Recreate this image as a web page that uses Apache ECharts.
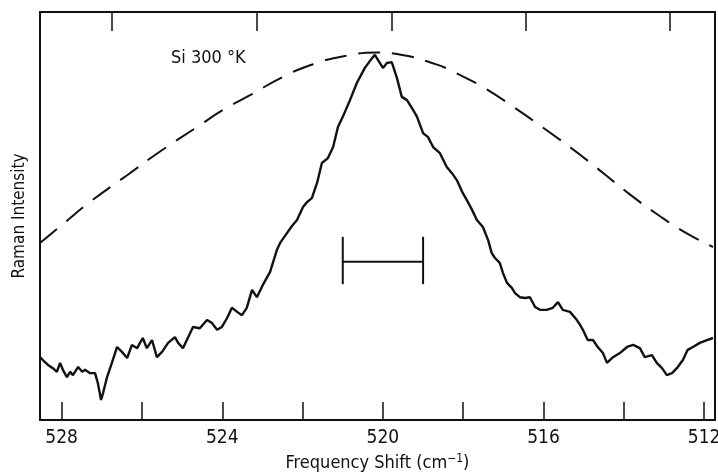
<!DOCTYPE html>
<html>
<head>
<meta charset="utf-8">
<script src="https://cdn.jsdelivr.net/npm/echarts@6/dist/echarts.min.js"></script>
<style>
html,body{margin:0;padding:0;background:#fff;}
#chart{width:718px;height:474px;}
</style>
</head>
<body>
<div id="chart"></div>
<script>
// Measured Raman spectrum (frequency shift cm^-1, intensity arb. units)
const spectrumX = [528.54,528.47,528.34,528.22,528.12,528.04,527.97,527.87,527.79,527.72,527.59,527.49,527.42,527.30,527.17,527.10,527.02,526.97,526.87,526.75,526.62,526.50,526.37,526.25,526.12,526.05,525.98,525.88,525.75,525.63,525.50,525.35,525.18,525.10,524.98,524.85,524.73,524.56,524.38,524.26,524.13,524.01,523.88,523.76,523.63,523.51,523.39,523.26,523.14,522.99,522.81,522.64,522.56,522.39,522.27,522.14,521.99,521.89,521.77,521.64,521.52,521.37,521.24,521.12,521.00,520.82,520.65,520.45,520.27,520.20,520.12,520.00,519.90,519.78,519.65,519.53,519.40,519.25,519.15,519.00,518.88,518.75,518.58,518.41,518.28,518.16,518.01,517.91,517.78,517.66,517.51,517.38,517.29,517.21,517.09,517.01,516.91,516.79,516.71,516.59,516.46,516.34,516.21,516.09,515.92,515.77,515.64,515.52,515.34,515.17,515.09,515.02,514.90,514.77,514.65,514.52,514.42,514.27,514.10,513.92,513.77,513.60,513.48,513.30,513.18,513.05,512.93,512.80,512.68,512.53,512.41,512.28,512.11,511.93,511.78];
const spectrumY = [15.4,14.7,13.5,12.7,11.8,14.0,12.3,10.5,11.8,11.0,13.0,11.8,12.3,11.5,11.5,9.1,4.9,6.6,10.5,14.0,17.9,16.7,15.2,18.4,17.6,18.9,20.1,17.6,19.6,15.4,16.7,18.9,20.3,18.9,17.6,20.3,22.8,22.5,24.5,23.8,22.1,22.8,25.0,27.5,26.5,25.7,27.5,31.9,30.1,33.1,36.3,41.7,43.4,45.8,47.5,49.0,52.2,53.4,54.4,58.1,63.0,64.2,66.9,71.8,74.3,78.4,82.6,86.3,88.7,89.5,88.2,86.3,87.5,87.7,83.8,79.2,78.4,76.0,74.3,70.3,69.4,66.9,65.4,62.0,60.5,58.8,55.6,53.9,51.5,49.0,47.3,44.1,40.9,39.7,38.5,36.0,33.6,32.4,31.1,30.1,29.9,30.1,27.7,27.0,27.0,27.5,28.9,27.0,26.5,24.5,23.3,22.1,19.6,19.6,17.9,16.4,14.0,15.4,16.4,17.9,18.4,17.6,15.4,15.9,14.0,12.7,11.0,11.5,12.7,14.7,17.2,17.9,18.9,19.6,20.1];

// Broad dashed comparison curve
const broadX = [528.54,527.97,527.30,526.37,525.55,524.63,523.98,523.31,522.49,521.74,520.95,520.15,519.65,518.65,518.26,517.51,516.76,516.02,515.09,513.85,513.18,512.53,511.78];
const broadY = [43.4,48.0,53.4,60.0,65.8,71.8,76.0,79.6,84.1,87.2,89.2,90.1,89.7,87.1,85.4,81.6,76.8,71.7,65.0,55.3,50.5,46.3,42.4];

// Instrumental resolution bar
const resolutionX = [521.0, 519.0];
const resolutionMid = 38.8;
const resolutionLow = 33.3;
const resolutionHigh = 44.9;

// Axis ticks / labels
const xMin = 511.73, xMax = 528.54;
const bottomTicks = [512,514,516,518,520,522,524,526,528];
const bottomLabels = [512,516,520,524,528];
const topTicks = [512.85,516.44,519.78,523.14,526.75];

const FONT = '"Liberation Sans Narrow","DejaVu Sans Condensed","Liberation Sans",sans-serif';
const zip = (xs, ys) => xs.map((x, i) => [x, ys[i]]);

const chart = echarts.init(document.getElementById('chart'), null, {renderer: 'canvas'});
const lineStyleSolid = {color: '#111', width: 2};

chart.setOption({
  animation: false,
  backgroundColor: '#fff',
  title: {
    text: 'Si 300 °K',
    left: 166, top: 44,
    textStyle: {fontFamily: FONT, fontSize: 18, fontWeight: 'normal', color: '#111'}
  },
  grid: {left: 40, right: 3, top: 12, bottom: 54, show: true, borderColor: '#111', borderWidth: 2,
    containLabel: false, outerBoundsMode: 'none'},
  xAxis: [{
    type: 'value', inverse: true, min: xMin, max: xMax, position: 'bottom',
    axisLine: {show: false},
    splitLine: {show: false},
    axisTick: {show: true, inside: true, length: 18, customValues: bottomTicks, lineStyle: {color: '#111', width: 1.5}},
    axisLabel: {customValues: bottomLabels, margin: 9, fontFamily: FONT, fontSize: 19, color: '#111'},
    name: 'Frequency Shift (cm{sup|−1})',
    nameLocation: 'middle', nameGap: 32,
    nameTextStyle: {fontFamily: FONT, fontSize: 18, color: '#111',
      rich: {sup: {fontFamily: FONT, fontSize: 12, color: '#111', verticalAlign: 'top', padding: [0,0,8,0]}}}
  }, {
    type: 'value', inverse: true, min: xMin, max: xMax, position: 'top',
    axisLine: {show: false},
    splitLine: {show: false},
    axisTick: {show: true, inside: true, length: 19, customValues: topTicks, lineStyle: {color: '#111', width: 1.5}},
    axisLabel: {show: false}
  }],
  yAxis: {
    type: 'value', min: 0, max: 100,
    axisLine: {show: false}, axisTick: {show: false}, axisLabel: {show: false}, splitLine: {show: false},
    name: 'Raman Intensity', nameLocation: 'middle', nameGap: 12,
    nameTextStyle: {fontFamily: FONT, fontSize: 17, color: '#111'}
  },
  series: [{
    type: 'line', data: zip(broadX, broadY), smooth: 0.5, symbol: 'none',
    lineStyle: {color: '#111', width: 2, type: [22, 12]}
  }, {
    type: 'line', data: zip(spectrumX, spectrumY), symbol: 'none',
    lineStyle: {color: '#111', width: 2.4}
  }, {
    type: 'line', data: resolutionX.map(x => [x, resolutionMid]), symbol: 'none', lineStyle: lineStyleSolid
  }, {
    type: 'line', data: [[resolutionX[0], resolutionLow], [resolutionX[0], resolutionHigh]], symbol: 'none', lineStyle: lineStyleSolid
  }, {
    type: 'line', data: [[resolutionX[1], resolutionLow], [resolutionX[1], resolutionHigh]], symbol: 'none', lineStyle: lineStyleSolid
  }]
});
</script>
</body>
</html>
